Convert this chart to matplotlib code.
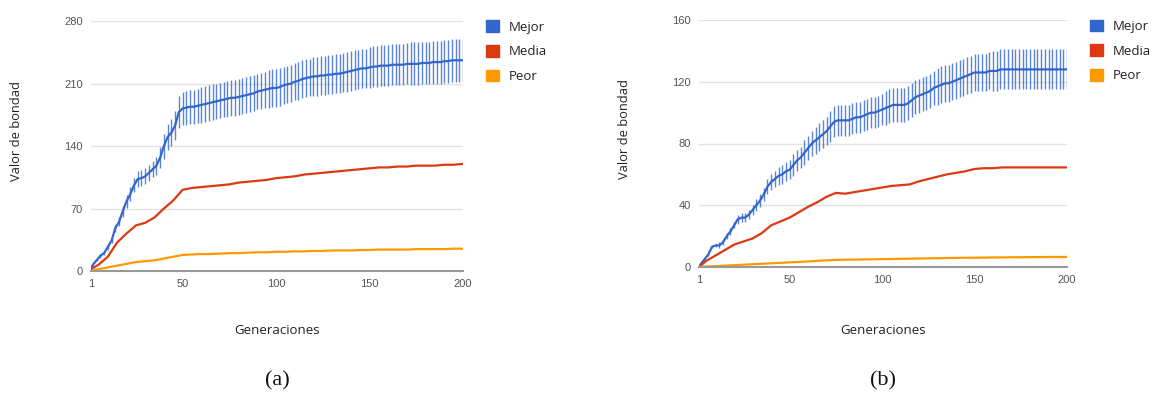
import matplotlib.pyplot as plt
import matplotlib.patches as mpatches
import numpy as np

# generations where the best-fitness value and its deviation were logged (1, 2, 4, ..., 200)
gens_best = [1] + list(range(2, 201, 2))
# generations for the mean / worst curves
gens_line = [1] + list(range(5, 201, 5))

# ---- run (a) ----
mejor_a = [3, 7, 12, 17, 20, 27, 34, 48, 55, 67,
           78, 86, 96, 103, 104, 106, 110, 114, 118, 127,
           140, 150, 155, 163, 178, 182, 183, 184, 184, 185,
           186, 187, 188, 189, 190, 191, 192, 193, 194, 194,
           195, 196, 197, 198, 199, 201, 202, 203, 204, 205,
           205, 206, 208, 209, 210, 212, 213, 215, 216, 217,
           218, 218, 219, 219, 220, 220, 221, 221, 222, 223,
           224, 225, 226, 227, 227, 228, 229, 229, 230, 230,
           230, 231, 231, 231, 231, 232, 232, 232, 232, 233,
           233, 233, 234, 234, 234, 235, 235, 236, 236, 236, 236]
err_a = [0, 1, 1, 2, 2, 3, 3, 4, 5, 6,
         7, 8, 8, 9, 9, 9, 9, 9, 10, 12,
         14, 15, 15, 16, 18, 19, 19, 19, 19, 19,
         20, 20, 20, 20, 20, 20, 20, 20, 20, 20,
         20, 20, 20, 20, 20, 20, 20, 20, 21, 21,
         21, 21, 21, 21, 21, 21, 21, 21, 21, 21,
         22, 22, 22, 22, 22, 22, 22, 22, 22, 22,
         22, 22, 22, 22, 22, 23, 23, 23, 23, 23,
         23, 23, 23, 23, 23, 23, 24, 24, 24, 24,
         24, 24, 24, 24, 24, 24, 24, 24, 24, 24, 24]
media_a = [2, 7, 16, 32, 42, 51, 54, 60, 70, 79,
           91, 93, 94, 95, 96, 97, 99, 100, 101, 102,
           104, 105, 106, 108, 109, 110, 111, 112, 113, 114,
           115, 116, 116, 117, 117, 118, 118, 118, 119, 119, 120]
peor_a = [0, 2, 4, 6, 8, 10, 11, 12, 14, 16,
          18, 18.5, 19, 19, 19.5, 20, 20, 20.5, 21, 21,
          21.5, 21.5, 22, 22, 22.5, 22.5, 23, 23, 23, 23.5,
          23.5, 24, 24, 24, 24, 24.5, 24.5, 24.5, 24.5, 25, 25]

# ---- run (b) ----
mejor_b = [0, 2, 5, 8, 13, 14, 14, 16, 20, 23,
           27, 31, 32, 32, 34, 37, 40, 43, 47, 52,
           55, 57, 59, 60, 62, 63, 66, 69, 71, 74,
           77, 80, 82, 84, 86, 88, 91, 94, 95, 95,
           95, 95, 96, 97, 97, 98, 99, 100, 100, 101,
           102, 103, 104, 105, 105, 105, 105, 106, 108, 110,
           111, 112, 113, 114, 116, 117, 118, 119, 119, 120,
           121, 122, 123, 124, 125, 126, 126, 126, 126, 127,
           127, 127, 128, 128, 128, 128, 128, 128, 128, 128,
           128, 128, 128, 128, 128, 128, 128, 128, 128, 128, 128]
err_b = [0, 0, 1, 1, 1, 1, 2, 2, 2, 2,
         2, 3, 3, 3, 3, 3, 4, 4, 4, 5,
         5, 5, 6, 6, 6, 6, 7, 7, 7, 8,
         8, 8, 9, 9, 9, 9, 10, 10, 10, 10,
         10, 10, 10, 10, 10, 10, 10, 10, 10, 10,
         10, 11, 11, 11, 11, 11, 11, 11, 11, 11,
         11, 11, 11, 11, 11, 12, 12, 12, 12, 12,
         12, 12, 12, 12, 12, 12, 12, 12, 12, 12,
         13, 13, 13, 13, 13, 13, 13, 13, 13, 13,
         13, 13, 13, 13, 13, 13, 13, 13, 13, 13, 13]
media_b = [0, 4, 7.5, 11, 14.5, 16.5, 18.5, 22, 27, 29.5,
           32, 35.5, 39, 42, 45.5, 48, 47.5, 48.5, 49.5, 50.5,
           51.5, 52.5, 53, 53.5, 55.5, 57, 58.5, 60, 61, 62,
           63.5, 64, 64, 64.5, 64.5, 64.5, 64.5, 64.5, 64.5, 64.5, 64.5]
peor_b = [0, 0.3, 0.6, 0.9, 1.2, 1.5, 1.8, 2.1, 2.4, 2.7,
          3.0, 3.3, 3.6, 4.0, 4.3, 4.6, 4.7, 4.8, 4.9, 5.0,
          5.1, 5.2, 5.3, 5.4, 5.5, 5.6, 5.7, 5.8, 5.9, 6.0,
          6.0, 6.1, 6.2, 6.2, 6.3, 6.3, 6.4, 6.4, 6.5, 6.5, 6.5]

xticks = [1, 50, 100, 150, 200]
labels = ["Mejor", "Media", "Peor"]
BLUE, RED, ORANGE = "#3366cc", "#dc3912", "#ff9900"


def drawPanel(fig, rect, mejor, err, media, peor, ymax, ystep, tag):
    ax = fig.add_axes(rect)
    #vertical deviation bars around the best value
    ax.errorbar(gens_best, mejor, yerr=err, fmt="none", ecolor=BLUE, elinewidth=1.0,
                alpha=0.8, capsize=0, zorder=2)
    ax.plot(gens_best, mejor, color=BLUE, lw=1.6, zorder=3)
    ax.plot(gens_line, media, color=RED, lw=1.6, zorder=3)
    ax.plot(gens_line, peor, color=ORANGE, lw=1.6, zorder=3)

    ax.set_xlim(1, 200)
    ax.set_ylim(0, ymax)
    ax.set_xticks(xticks)
    ax.set_yticks(np.arange(0, ymax + 1, ystep))
    ax.tick_params(length=0, labelsize=8, labelcolor="#555555", pad=6)
    for lab in ax.get_xticklabels() + ax.get_yticklabels():
        lab.set_family("Liberation Sans")
    ax.grid(axis="y", color="#e2e2e2", lw=1)
    ax.set_axisbelow(True)
    for s in ["top", "right", "left"]:
        ax.spines[s].set_visible(False)
    ax.spines["bottom"].set_color("#999999")
    ax.spines["bottom"].set_linewidth(1.5)
    ax.spines["bottom"].set_zorder(4)

    handles = [mpatches.Patch(color=c, label=l) for c, l in zip([BLUE, RED, ORANGE], labels)]
    ax.legend(handles=handles, loc="upper left", bbox_to_anchor=(1.03, 1.05), frameon=False,
              handlelength=1.0, handleheight=1.0, handletextpad=0.75, labelspacing=0.85,
              prop={"family": "Open Sans", "size": 9.5}, labelcolor="#222222")

    cx = rect[0] + rect[2] / 2
    fig.text(cx, 1 - 331 / 396, "Generaciones", ha="center", va="center",
             family="Open Sans", fontsize=9.5, color="#222222")
    fig.text(rect[0] - 75 / 1157, rect[1] + rect[3] * 0.56, "Valor de bondad", rotation=90,
             ha="center", va="center", family="Open Sans", fontsize=9.3, color="#222222")
    fig.text(cx, 1 - 381 / 396, tag, ha="center", va="center",
             family="Liberation Serif", fontsize=16, color="#111111")
    return ax


fig = plt.figure(figsize=(11.57, 3.96), dpi=100)
drawPanel(fig, [91 / 1157, 1 - 271 / 396, 372 / 1157, 250 / 396],
          mejor_a, err_a, media_a, peor_a, 280, 70, "(a)")
drawPanel(fig, [699 / 1157, 1 - 267 / 396, 368 / 1157, 247 / 396],
          mejor_b, err_b, media_b, peor_b, 160, 40, "(b)")
fig.savefig("out.png", dpi=100)
